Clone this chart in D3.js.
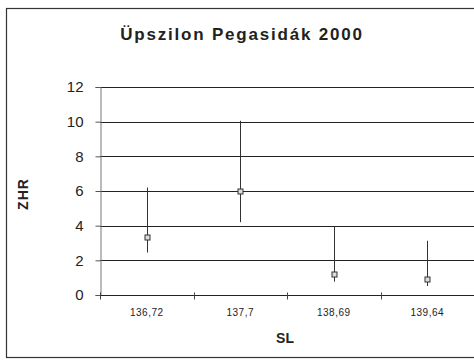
<!DOCTYPE html>
<html>
<head>
<meta charset="utf-8">
<script src="https://cdn.jsdelivr.net/npm/d3@7/dist/d3.min.js"></script>
<style>
  html, body { margin: 0; padding: 0; background: #fff; }
  svg { display: block; font-family: "Liberation Sans", Arial, sans-serif; }
</style>
</head>
<body>
<svg id="chart" width="474" height="361"></svg>
<script>
// Solar longitude bins and ZHR with lower / upper error limits
const categories = ["136,72", "137,7", "138,69", "139,64"];
const zhr   = [3.36, 6.0, 1.2, 0.92];
const lower = [2.45, 4.2, 0.77, 0.52];
const upper = [6.2, 10.05, 3.95, 3.13];
const yTicks = [0, 2, 4, 6, 8, 10, 12];

const svg = d3.select("#chart");
const W = 474, H = 361;
const plot = { left: 100, top: 87, right: 474, bottom: 295 };

// Outer chart frame
svg.append("rect")
  .attr("x", 6.5).attr("y", 8.5)
  .attr("width", W + 10).attr("height", 349)
  .attr("fill", "#fff")
  .attr("stroke", "#333").attr("stroke-width", 1.2);

const x = d3.scaleBand().domain(categories).range([plot.left, plot.right]).padding(0);
const y = d3.scaleLinear().domain([0, 12]).range([plot.bottom, plot.top]);

// Horizontal gridlines
svg.append("g").selectAll("line").data(yTicks.filter(d => d > 0)).join("line")
  .attr("x1", plot.left).attr("x2", plot.right)
  .attr("y1", d => Math.round(y(d)) + 0.5).attr("y2", d => Math.round(y(d)) + 0.5)
  .attr("stroke", "#222").attr("stroke-width", 1);

// Y axis
const yAxis = svg.append("g")
  .attr("transform", `translate(${plot.left + 0.5},0)`)
  .call(d3.axisLeft(y).tickValues(yTicks).tickSize(5).tickPadding(12));
yAxis.select(".domain").attr("stroke", "#777");
yAxis.selectAll(".tick line").attr("stroke", "#555");
yAxis.selectAll(".tick text")
  .attr("font-size", 15).attr("fill", "#222")
  .attr("font-family", "Liberation Sans, Arial, sans-serif");

// X axis with ticks on category boundaries
const xAxisG = svg.append("g").attr("transform", `translate(0,${plot.bottom + 0.5})`);
xAxisG.append("line")
  .attr("x1", plot.left).attr("x2", plot.right)
  .attr("stroke", "#222");
const bounds = categories.map(c => x(c)).concat([plot.right]);
xAxisG.selectAll(".bt").data(bounds).join("line")
  .attr("class", "bt")
  .attr("x1", d => Math.round(d) + 0.5).attr("x2", d => Math.round(d) + 0.5)
  .attr("y1", -3).attr("y2", 4)
  .attr("stroke", "#444");
xAxisG.selectAll("text").data(categories).join("text")
  .attr("x", d => x(d) + x.bandwidth() / 2)
  .attr("y", 20)
  .attr("text-anchor", "middle")
  .attr("font-size", 10).attr("letter-spacing", 0.5).attr("fill", "#222")
  .text(d => d);

// Error bars
const pts = categories.map((c, i) => ({ c, v: zhr[i], lo: lower[i], hi: upper[i] }));
svg.append("g").selectAll("line").data(pts).join("line")
  .attr("x1", d => Math.round(x(d.c) + x.bandwidth() / 2) + 0.5)
  .attr("x2", d => Math.round(x(d.c) + x.bandwidth() / 2) + 0.5)
  .attr("y1", d => y(d.hi)).attr("y2", d => y(d.lo))
  .attr("stroke", "#333").attr("stroke-width", 1);

// Markers
svg.append("g").selectAll("rect").data(pts).join("rect")
  .attr("x", d => Math.round(x(d.c) + x.bandwidth() / 2) - 2)
  .attr("y", d => Math.round(y(d.v)) - 2)
  .attr("width", 5).attr("height", 5)
  .attr("fill", "#ddd").attr("stroke", "#333").attr("stroke-width", 1);

// Titles
svg.append("text")
  .attr("x", 242).attr("y", 40)
  .attr("text-anchor", "middle")
  .attr("font-size", 17).attr("font-weight", "bold")
  .attr("letter-spacing", 1.8).attr("fill", "#222")
  .text("Üpszilon Pegasidák 2000");

svg.append("text")
  .attr("transform", "translate(28,194) rotate(-90)")
  .attr("text-anchor", "middle")
  .attr("font-size", 14).attr("font-weight", "bold")
  .attr("letter-spacing", 1).attr("fill", "#222")
  .text("ZHR");

svg.append("text")
  .attr("x", 285).attr("y", 343)
  .attr("text-anchor", "middle")
  .attr("font-size", 14).attr("font-weight", "bold").attr("fill", "#222")
  .text("SL");
</script>
</body>
</html>
